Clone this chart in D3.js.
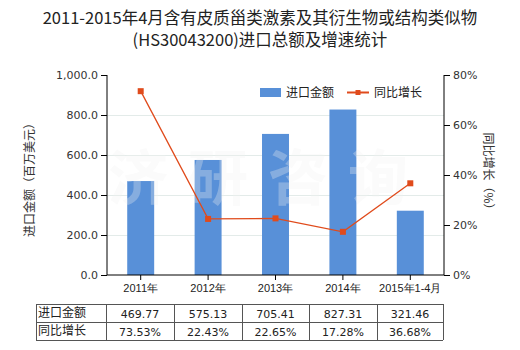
<!DOCTYPE html>
<html>
<head>
<meta charset="utf-8">
<script src="https://cdn.jsdelivr.net/npm/d3@7"></script>
<style>
  html, body { margin: 0; padding: 0; background: #fff; }
  svg { display: block; font-family: "Microsoft YaHei", "Noto Sans CJK SC", sans-serif; }
</style>
</head>
<body>
<svg id="chart" width="520" height="350"></svg>
<script>
// Import value (million USD) and year-on-year growth (%)
const categories = ["2011年", "2012年", "2013年", "2014年", "2015年1-4月"];
const importValues = [469.77, 575.13, 705.41, 827.31, 321.46];
const growthRates = [73.53, 22.43, 22.65, 17.28, 36.68];
const leftTicks = [0, 200, 400, 600, 800, 1000];
const rightTicks = [0, 20, 40, 60, 80];
const titleLines = ["2011-2015年4月含有皮质甾类激素及其衍生物或结构类似物", "(HS30043200)进口总额及增速统计"];
const seriesNames = ["进口金额", "同比增长"];

const svg = d3.select("#chart");
const m = { left: 107, right: 444, top: 75, bottom: 275 };
const barColor = "#5890d8";
const lineColor = "#e04b1c";

const x = d3.scaleBand().domain(categories).range([m.left, m.right]).paddingInner(0.6).paddingOuter(0.3);
const yL = d3.scaleLinear().domain([0, 1000]).range([m.bottom, m.top]);
const yR = d3.scaleLinear().domain([0, 80]).range([m.bottom, m.top]);

// title
svg.append("g").selectAll("text").data(titleLines).join("text")
  .attr("x", 260).attr("y", (d, i) => 24 + i * 22)
  .attr("text-anchor", "middle").attr("font-size", 16.5).attr("fill", "#222")
  .text(d => d);

// gridlines
svg.append("g").selectAll("line").data(leftTicks.slice(1, -1)).join("line")
  .attr("x1", m.left).attr("x2", m.right)
  .attr("y1", d => Math.round(yL(d)) + 0.5).attr("y2", d => Math.round(yL(d)) + 0.5)
  .attr("stroke", "#e3ebe9").attr("stroke-width", 1);

// bars
svg.append("g").selectAll("rect").data(importValues).join("rect")
  .attr("x", (d, i) => x(categories[i]))
  .attr("width", x.bandwidth())
  .attr("y", d => yL(d))
  .attr("height", d => m.bottom - yL(d))
  .attr("fill", barColor);

// faint watermark across the plot
svg.append("text").attr("x", 268).attr("y", 200).attr("text-anchor", "middle")
  .attr("font-size", 60).attr("font-weight", "bold").attr("fill", "#f2f2f2").attr("opacity", 0.3)
  .attr("letter-spacing", 20).text("济研咨询");

// line
const cx = i => x(categories[i]) + x.bandwidth() / 2;
svg.append("path").datum(growthRates)
  .attr("d", d3.line().x((d, i) => cx(i)).y(d => yR(d)))
  .attr("fill", "none").attr("stroke", lineColor).attr("stroke-width", 1.3);
svg.append("g").selectAll("rect").data(growthRates).join("rect")
  .attr("x", (d, i) => cx(i) - 3).attr("y", d => yR(d) - 3)
  .attr("width", 6).attr("height", 6).attr("fill", lineColor);

// axes
const axisFont = g => g.selectAll("text").attr("font-size", 11).attr("fill", "#333")
  .attr("font-family", "Tahoma, 'DejaVu Sans', sans-serif");
const left = svg.append("g").attr("transform", `translate(${m.left},0)`)
  .call(d3.axisLeft(yL).tickValues(leftTicks).tickFormat(d3.format(",.1f")).tickSizeOuter(0).tickSize(6).tickPadding(3));
left.call(axisFont);
left.selectAll("path, line").attr("stroke", "#000");
left.select(".domain").attr("d", `M0,${m.top}V${m.bottom}`);

const right = svg.append("g").attr("transform", `translate(${m.right},0)`)
  .call(d3.axisRight(yR).tickValues(rightTicks).tickFormat(d => d + "%").tickSizeOuter(0).tickSize(6).tickPadding(3));
right.call(axisFont);
right.selectAll("path, line").attr("stroke", "#000");
right.select(".domain").attr("d", `M0,${m.top}V${m.bottom}`);

const bottom = svg.append("g").attr("transform", `translate(0,${m.bottom})`)
  .call(d3.axisBottom(x).tickSizeOuter(0).tickSize(5).tickPadding(4));
bottom.selectAll("text").attr("font-size", 11).attr("fill", "#222");
bottom.selectAll("path, line").attr("stroke", "#000");
bottom.select(".domain").attr("d", `M${m.left},0H${m.right}`);

// axis titles
svg.append("text").attr("transform", "translate(28,177) rotate(-90)")
  .attr("text-anchor", "middle").attr("dominant-baseline", "central").attr("font-size", 12).attr("fill", "#333")
  .text("进口金额（百万美元）");
svg.append("text").attr("transform", "translate(489,174) rotate(90)")
  .attr("text-anchor", "middle").attr("dominant-baseline", "central").attr("font-size", 12).attr("fill", "#333")
  .text("同比增长（%）");

// legend
const lg = svg.append("g");
lg.append("rect").attr("x", 260).attr("y", 88).attr("width", 21).attr("height", 9).attr("fill", barColor);
lg.append("text").attr("x", 286).attr("y", 97).attr("font-size", 12).attr("fill", "#222").text(seriesNames[0]);
lg.append("line").attr("x1", 347).attr("x2", 369).attr("y1", 92.5).attr("y2", 92.5).attr("stroke", lineColor).attr("stroke-width", 2);
lg.append("rect").attr("x", 355.5).attr("y", 90).attr("width", 5).attr("height", 5).attr("fill", lineColor);
lg.append("text").attr("x", 374).attr("y", 97).attr("font-size", 12).attr("fill", "#222").text(seriesNames[1]);

// data table
const tX = [36, 106, 174, 242, 309, 377, 443];
const tY = [304, 322, 340];
const tbl = svg.append("g").attr("stroke", "#555").attr("stroke-width", 1);
tY.forEach(yy => tbl.append("line").attr("x1", tX[0]).attr("x2", tX[6]).attr("y1", yy + 0.5).attr("y2", yy + 0.5));
tX.forEach(xx => tbl.append("line").attr("x1", xx + 0.5).attr("x2", xx + 0.5).attr("y1", tY[0]).attr("y2", tY[2]));
const rows = [
  { name: seriesNames[0], vals: importValues.map(v => v.toFixed(2)) },
  { name: seriesNames[1], vals: growthRates.map(v => v.toFixed(2) + "%") }
];
rows.forEach((r, ri) => {
  const yy = tY[ri] + 14;
  svg.append("text").attr("x", tX[0] + 2).attr("y", yy - 1).attr("font-size", 12).attr("fill", "#222").text(r.name);
  r.vals.forEach((v, ci) => {
    svg.append("text").attr("x", (tX[ci + 1] + tX[ci + 2]) / 2).attr("y", yy)
      .attr("text-anchor", "middle").attr("font-size", 11).attr("fill", "#222")
      .attr("font-family", "Tahoma, 'DejaVu Sans', sans-serif").text(v);
  });
});
</script>
</body>
</html>
